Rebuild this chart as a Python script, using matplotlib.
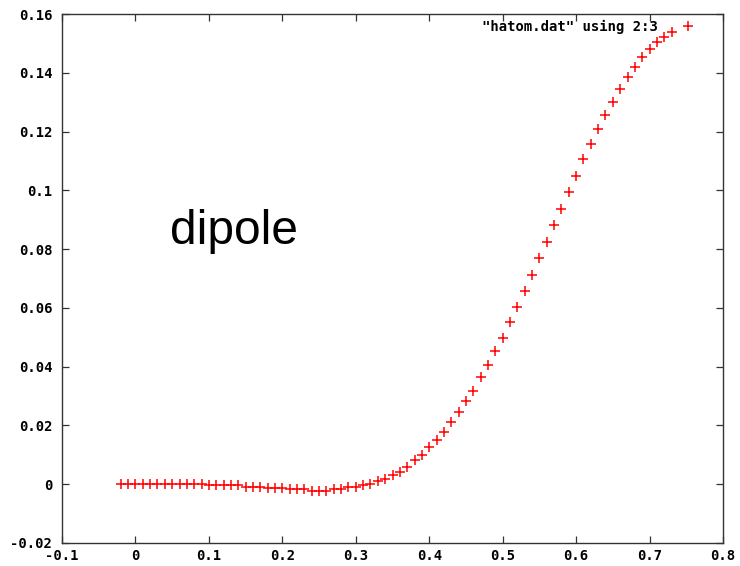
import numpy as np
import matplotlib
matplotlib.use("Agg")
import matplotlib.pyplot as plt

# data (column 2 vs column 3 of hatom.dat)
x_vals = [-0.02, -0.01, 0.00, 0.01, 0.02, 0.03, 0.04, 0.05, 0.06, 0.07, 0.08, 0.09,
          0.10, 0.11, 0.12, 0.13, 0.14, 0.15, 0.16, 0.17, 0.18, 0.19, 0.20,
          0.21, 0.22, 0.23, 0.24, 0.25, 0.26, 0.27, 0.28, 0.29, 0.30,
          0.31, 0.32, 0.33, 0.34, 0.35, 0.36, 0.37, 0.38, 0.39, 0.40,
          0.41, 0.42, 0.43, 0.44, 0.45, 0.46, 0.47, 0.48, 0.49, 0.50,
          0.51, 0.52, 0.53, 0.54, 0.55, 0.56, 0.57, 0.58, 0.59, 0.60,
          0.61, 0.62, 0.63, 0.64, 0.65, 0.66, 0.67, 0.68, 0.69, 0.70,
          0.71, 0.72, 0.73]
y_vals = [0.0, 0.0, 0.0, 0.0, 0.0, 0.0, 0.0, 0.0, 0.0, 0.0, 0.0, 0.0,
          -0.0004, -0.0004, -0.0004, -0.0004, -0.0004, -0.0009, -0.0009, -0.0009,
          -0.0013, -0.0013, -0.0013,
          -0.0017, -0.0017, -0.0017, -0.0022, -0.0022, -0.0022, -0.0017, -0.0015,
          -0.0011, -0.0008,
          -0.0004, 0.0002, 0.0010, 0.0019, 0.0030, 0.0043, 0.0060, 0.0081, 0.0101, 0.0126,
          0.0151, 0.0178, 0.0213, 0.0246, 0.0282, 0.0317, 0.0365, 0.0406, 0.0454, 0.0499,
          0.0553, 0.0602, 0.0659, 0.0712, 0.0770, 0.0823, 0.0881, 0.0937, 0.0994, 0.1049,
          0.1105, 0.1157, 0.1208, 0.1256, 0.1301, 0.1346, 0.1386, 0.1419, 0.1452, 0.1480,
          0.1505, 0.1523, 0.1539]
series_label = '"hatom.dat" using 2:3'
x_ticks = [-0.1, 0.0, 0.1, 0.2, 0.3, 0.4, 0.5, 0.6, 0.7, 0.8]
x_tick_labels = ["-0.1", "0", "0.1", "0.2", "0.3", "0.4", "0.5", "0.6", "0.7", "0.8"]
y_ticks = [-0.02, 0.0, 0.02, 0.04, 0.06, 0.08, 0.1, 0.12, 0.14, 0.16]
y_tick_labels = ["-0.02", "0", "0.02", "0.04", "0.06", "0.08", "0.1", "0.12", "0.14", "0.16"]
annotation = "dipole"

fig = plt.figure(figsize=(7.40, 5.66), dpi=100)
ax = fig.add_axes([62 / 740, 23 / 566, 661 / 740, 529 / 566])

ax.plot(x_vals, y_vals, linestyle="none", marker="+", color="#ff0000",
        markersize=7.5, markeredgewidth=1.1, label=series_label)

ax.set_xlim(-0.1, 0.8)
ax.set_ylim(-0.02, 0.16)
ax.set_xticks(x_ticks)
ax.set_xticklabels(x_tick_labels)
ax.set_yticks(y_ticks)
ax.set_yticklabels(y_tick_labels)

tick_font_size = 10
for lab in ax.get_xticklabels() + ax.get_yticklabels():
    lab.set_fontfamily("DejaVu Sans Mono")
    lab.set_fontweight("bold")
    lab.set_fontsize(tick_font_size)

ax.tick_params(direction="in", length=5, width=0.9, color="#333333",
               top=True, right=True, labelcolor="black")
ax.tick_params(axis="x", pad=4)
ax.tick_params(axis="y", pad=7)
for sp in ax.spines.values():
    sp.set_color("#333333")
    sp.set_linewidth(1.0)

ax.text(0.047, 0.0819, annotation, fontsize=34.5, family="Liberation Sans",
        va="baseline", ha="left", color="black")

leg = ax.legend(loc="upper right", bbox_to_anchor=(0.983, 1.008), frameon=False,
                markerfirst=False, handlelength=2.0, handletextpad=1.2,
                prop={"family": "DejaVu Sans Mono", "weight": "bold", "size": 10},
                borderaxespad=0.3)

fig.savefig("out.png", dpi=100)
